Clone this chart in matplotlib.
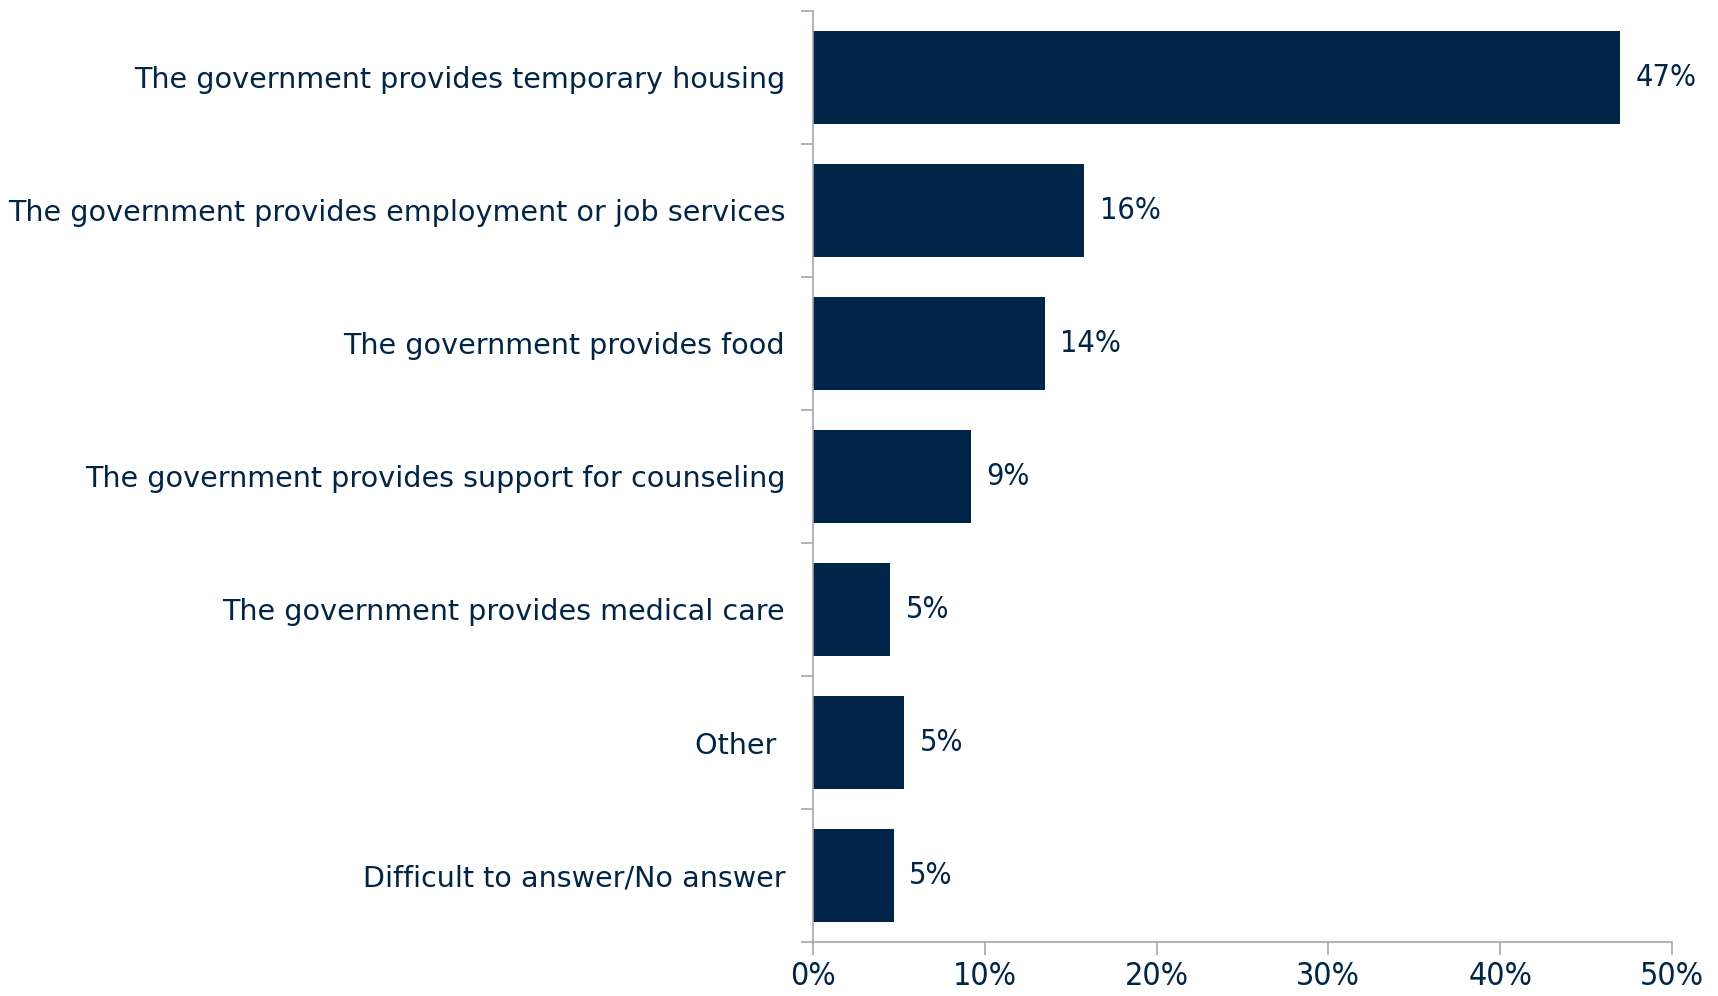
import matplotlib.pyplot as plt
from matplotlib.ticker import FuncFormatter

# survey answers (share of respondents, %)
categories = [
    'The government provides temporary housing',
    'The government provides employment or job services',
    'The government provides food',
    'The government provides support for counseling',
    'The government provides medical care',
    'Other ',
    'Difficult to answer/No answer',
]
values = [47.0, 15.8, 13.5, 9.2, 4.5, 5.3, 4.7]
value_labels = ['47%', '16%', '14%', '9%', '5%', '5%', '5%']
x_ticks = [0, 10, 20, 30, 40, 50]

navy = '#002548'
grey = '#a6a6ae'

fig = plt.figure(figsize=(17.18, 9.96), dpi=100)
ax = fig.add_axes([0.4732, 0.0542, 0.5, 0.9348])

pos = list(range(len(categories)))
ax.barh(pos, values, height=0.7, color=navy)
ax.set_ylim(len(categories) - 0.5, -0.5)
ax.set_xlim(0, 50)

# value labels at the end of each bar
for p, v, lab in zip(pos, values, value_labels):
    ax.text(v + 0.9, p, lab, va='center', ha='left', fontsize=22,
            color=navy, fontstretch='condensed')

ax.set_yticks(pos)
ax.set_yticklabels(categories, fontsize=20.6, color=navy)
ax.set_yticks([p + 0.5 for p in [-1] + pos], minor=True)
ax.tick_params(axis='y', which='major', length=0, pad=20)
ax.tick_params(axis='y', which='minor', length=9, color=grey, width=1.2)

ax.set_xticks(x_ticks)
ax.xaxis.set_major_formatter(FuncFormatter(lambda x, _: f'{x:.0f}%'))
ax.tick_params(axis='x', length=9, color=grey, width=1.2, labelsize=23,
               labelcolor=navy, pad=5)
for t in ax.get_xticklabels():
    t.set_fontstretch('condensed')

for s in ['top', 'right']:
    ax.spines[s].set_visible(False)
ax.spines['left'].set_color(grey)
ax.spines['bottom'].set_color(grey)
ax.spines['left'].set_linewidth(1.2)
ax.spines['bottom'].set_linewidth(1.2)

plt.savefig('out.png', dpi=100)
